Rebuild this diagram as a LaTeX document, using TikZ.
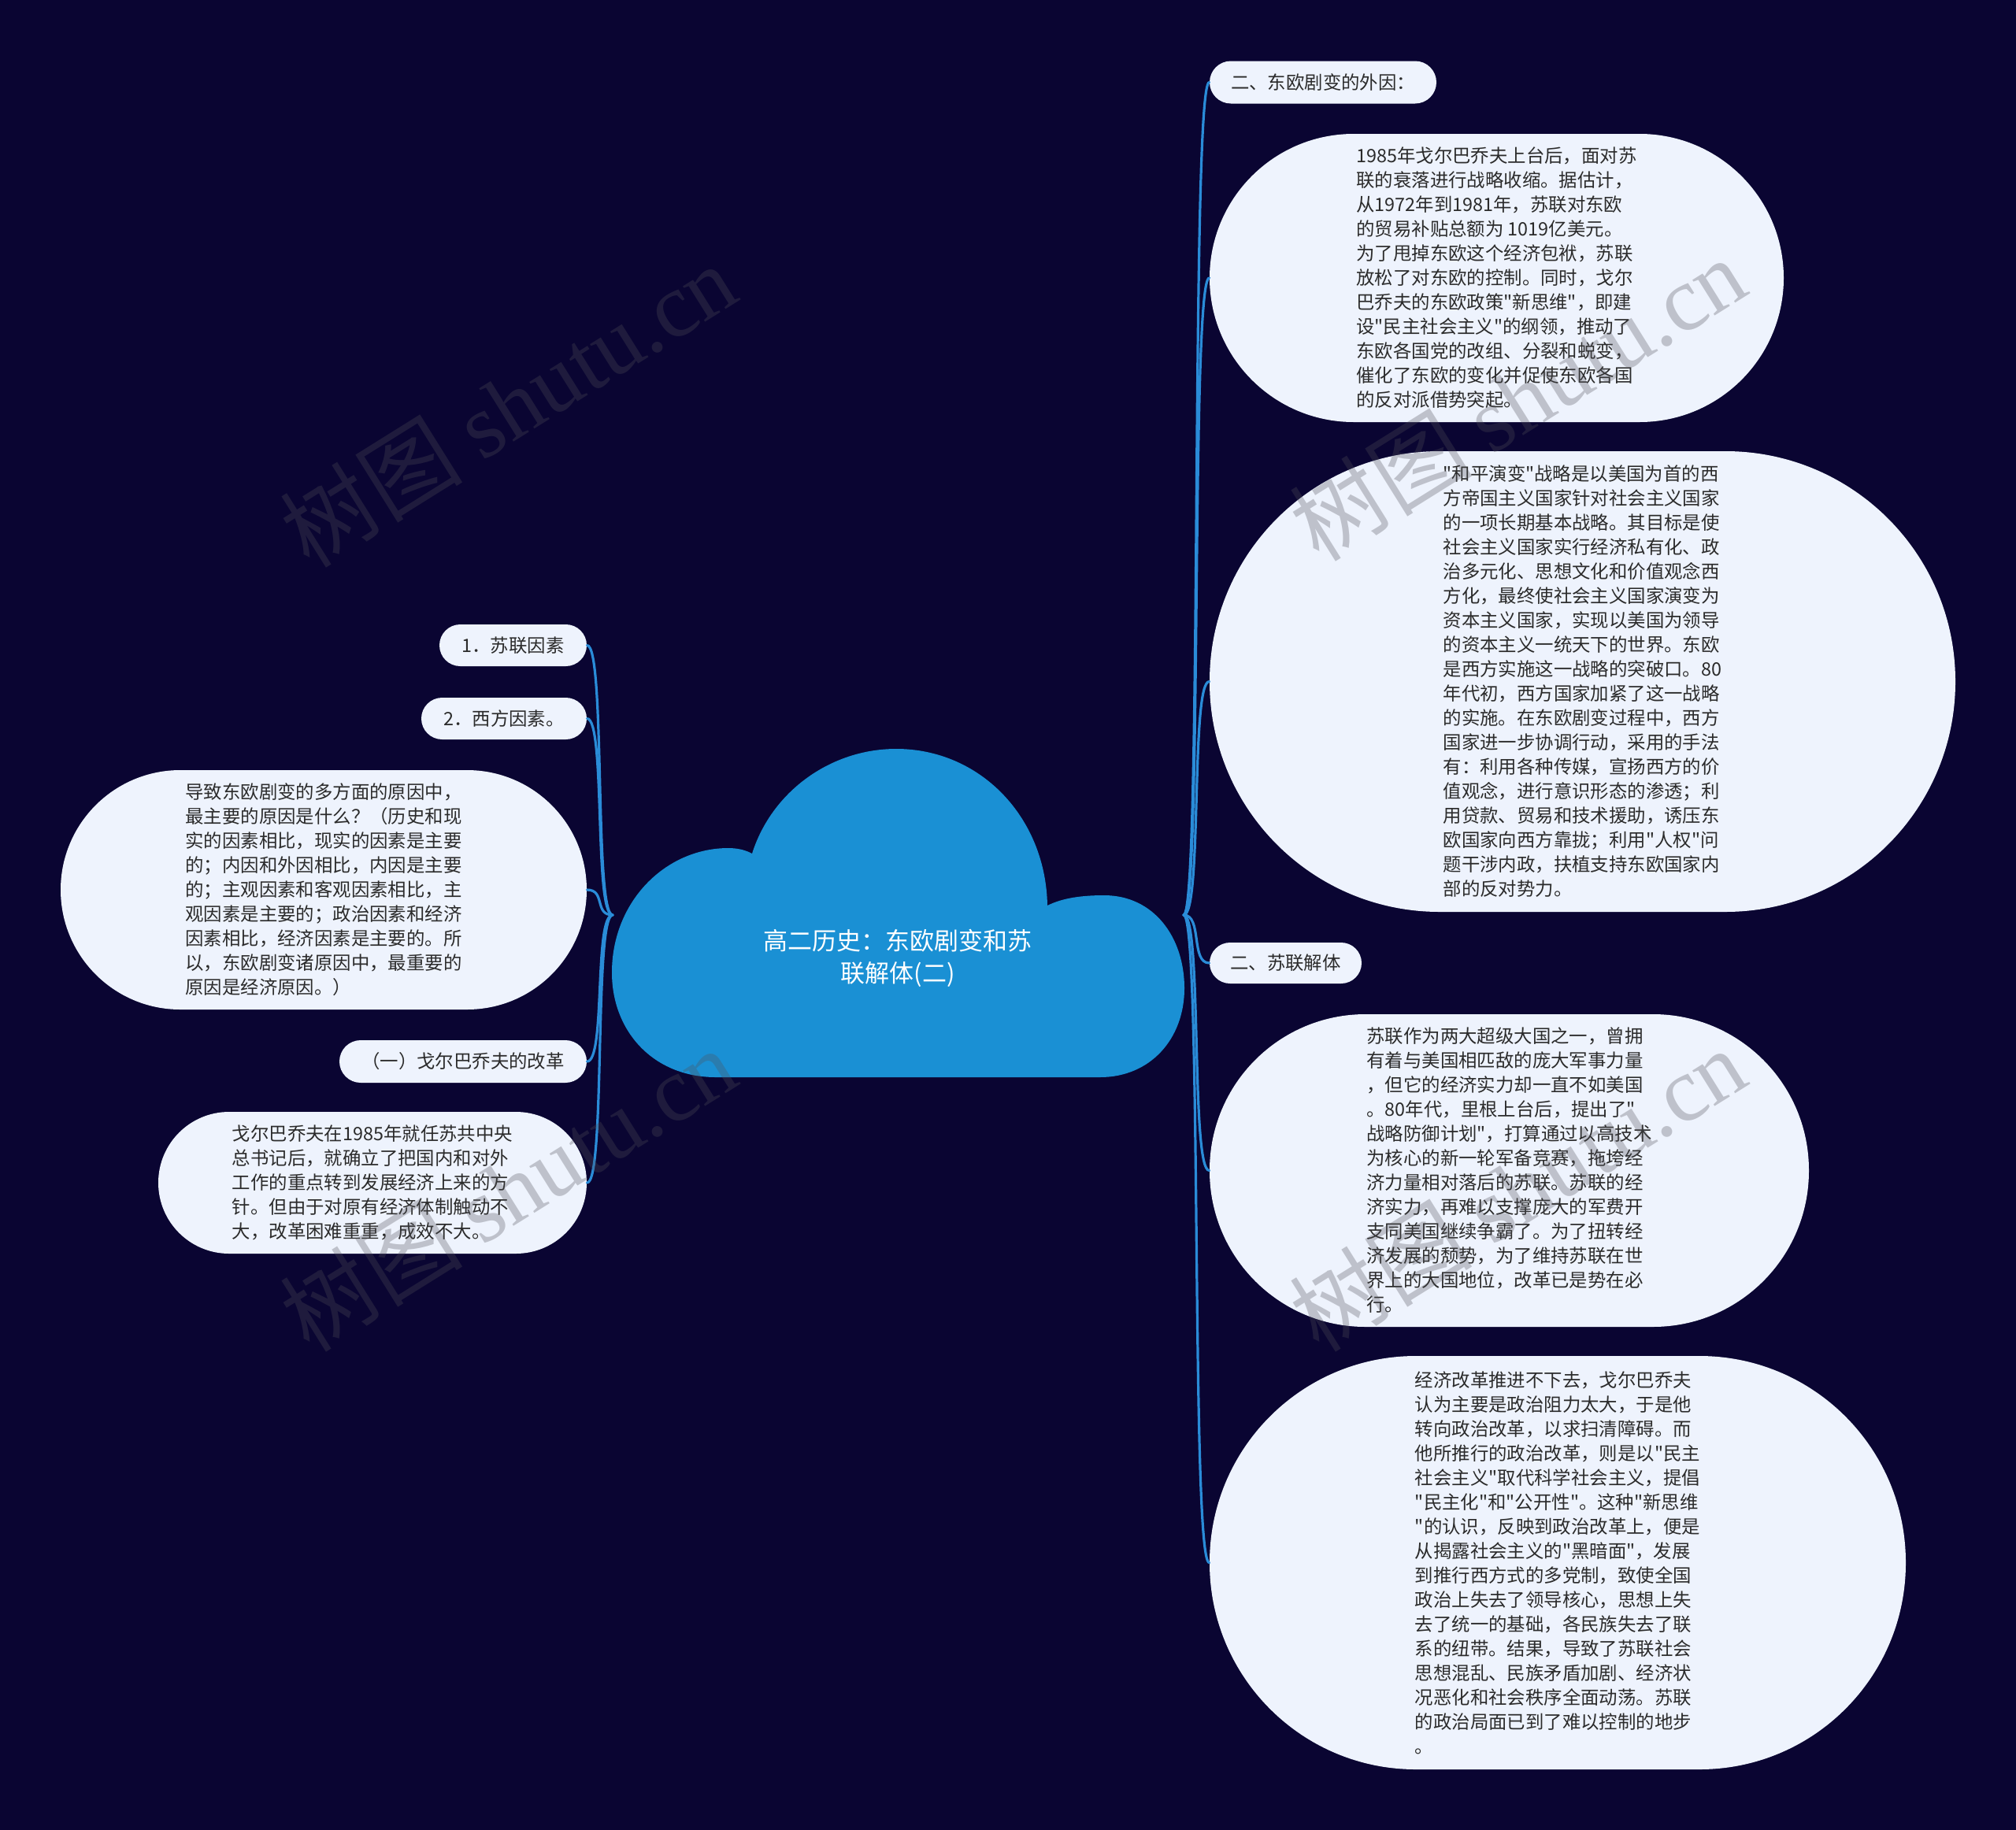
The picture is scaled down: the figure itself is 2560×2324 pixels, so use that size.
\documentclass[tikz,border=0pt]{standalone}
\usepackage{fontspec}
\setmainfont{Noto Sans CJK SC}[Ligatures=TeXOff]
\newfontfamily\wmlatin{Liberation Serif}
\definecolor{bgnavy}{HTML}{0A0532}
\definecolor{cloudblue}{HTML}{1A90D4}
\definecolor{linkblue}{HTML}{2A8CD8}
\definecolor{bubblefill}{HTML}{EEF3FD}
\definecolor{bubbletext}{HTML}{2B2B2B}
\definecolor{wmgray}{HTML}{505058}
\tikzset{
  bubble/.style={rectangle, fill=bubblefill, text=bubbletext, inner sep=0pt,
    align=left, font=\fontsize{11.7pt}{15.5pt}\selectfont},
  link/.style={draw=linkblue, line width=1.6pt, line cap=round},
  titletext/.style={text=white, align=center, font=\fontsize{15.5pt}{20.5pt}\selectfont},
  watermark/.style={text=wmgray, opacity=0.3, rotate=32, font=\fontsize{58pt}{58pt}\selectfont}
}
\begin{document}
\begin{tikzpicture}[x=0.5pt,y=-0.5pt]
\fill[bgnavy] (0,0) rectangle (2560,2324);
\useasboundingbox (0,0) rectangle (2560,2324);

% junction points of the central cloud
\coordinate (cl) at (778,1162);
\coordinate (cr) at (1503,1162);

% right nodes
\node[bubble, minimum width=144pt, minimum height=27pt, rounded corners=13.5pt, align=center] (r1) at (1680,104.5) {二、东欧剧变的外因：};
\node[bubble, minimum width=364.5pt, minimum height=183pt, rounded corners=91.5pt] (r2) at (1900.5,353) {1985年戈尔巴乔夫上台后，面对苏\\联的衰落进行战略收缩。据估计，\\从1972年到1981年，苏联对东欧\\的贸易补贴总额为 1019亿美元。\\为了甩掉东欧这个经济包袱，苏联\\放松了对东欧的控制。同时，戈尔\\巴乔夫的东欧政策"新思维"，即建\\设"民主社会主义"的纲领，推动了\\东欧各国党的改组、分裂和蜕变，\\催化了东欧的变化并促使东欧各国\\的反对派借势突起。};
\node[bubble, minimum width=473.5pt, minimum height=292.5pt, rounded corners=146pt] (r3) at (2009.5,865.5) {"和平演变"战略是以美国为首的西\\方帝国主义国家针对社会主义国家\\的一项长期基本战略。其目标是使\\社会主义国家实行经济私有化、政\\治多元化、思想文化和价值观念西\\方化，最终使社会主义国家演变为\\资本主义国家，实现以美国为领导\\的资本主义一统天下的世界。东欧\\是西方实施这一战略的突破口。80\\年代初，西方国家加紧了这一战略\\的实施。在东欧剧变过程中，西方\\国家进一步协调行动，采用的手法\\有：利用各种传媒，宣扬西方的价\\值观念，进行意识形态的渗透；利\\用贷款、贸易和技术援助，诱压东\\欧国家向西方靠拢；利用"人权"问\\题干涉内政，扶植支持东欧国家内\\部的反对势力。};
\node[bubble, minimum width=96.5pt, minimum height=26pt, rounded corners=13pt, align=center] (r4) at (1632.5,1223) {二、苏联解体};
\node[bubble, minimum width=380.5pt, minimum height=198.5pt, rounded corners=99pt] (r5) at (1916.5,1486.5) {苏联作为两大超级大国之一，曾拥\\有着与美国相匹敌的庞大军事力量\\，但它的经济实力却一直不如美国\\。80年代，里根上台后，提出了"\\战略防御计划"，打算通过以高技术\\为核心的新一轮军备竞赛，拖垮经\\济力量相对落后的苏联。苏联的经\\济实力，再难以支撑庞大的军费开\\支同美国继续争霸了。为了扭转经\\济发展的颓势，为了维持苏联在世\\界上的大国地位，改革已是势在必\\行。};
\node[bubble, minimum width=442pt, minimum height=262.5pt, rounded corners=131pt] (r6) at (1978,1984.5) {经济改革推进不下去，戈尔巴乔夫\\认为主要是政治阻力太大，于是他\\转向政治改革，以求扫清障碍。而\\他所推行的政治改革，则是以"民主\\社会主义"取代科学社会主义，提倡\\"民主化"和"公开性"。这种"新思维\\"的认识，反映到政治改革上，便是\\从揭露社会主义的"黑暗面"，发展\\到推行西方式的多党制，致使全国\\政治上失去了领导核心，思想上失\\去了统一的基础，各民族失去了联\\系的纽带。结果，导致了苏联社会\\思想混乱、民族矛盾加剧、经济状\\况恶化和社会秩序全面动荡。苏联\\的政治局面已到了难以控制的地步\\。};

% left nodes
\node[bubble, minimum width=93.5pt, minimum height=26.5pt, rounded corners=13.25pt, align=center] (l1) at (651.5,819.5) {1．苏联因素};
\node[bubble, minimum width=105pt, minimum height=26.5pt, rounded corners=13.25pt, align=center] (l2) at (640,912.5) {2．西方因素。};
\node[bubble, minimum width=334pt, minimum height=152pt, rounded corners=76pt] (l3) at (411,1130) {导致东欧剧变的多方面的原因中，\\最主要的原因是什么？（历史和现\\实的因素相比，现实的因素是主要\\的；内因和外因相比，内因是主要\\的；主观因素和客观因素相比，主\\观因素是主要的；政治因素和经济\\因素相比，经济因素是主要的。所\\以，东欧剧变诸原因中，最重要的\\原因是经济原因。）};
\node[bubble, minimum width=157pt, minimum height=27pt, rounded corners=13.5pt, align=center] (l4) at (588,1348) {（一）戈尔巴乔夫的改革};
\node[bubble, minimum width=272pt, minimum height=90pt, rounded corners=45pt] (l5) at (473,1502) {戈尔巴乔夫在1985年就任苏共中央\\总书记后，就确立了把国内和对外\\工作的重点转到发展经济上来的方\\针。但由于对原有经济体制触动不\\大，改革困难重重，成效不大。};

% connectors
\foreach \n in {r1,r2,r3,r4,r5,r6}
  \draw[link] (cr) .. controls +(24,0) and +(-24,0) .. (\n.west);
\foreach \n in {l1,l2,l3,l4,l5}
  \draw[link] (cl) .. controls +(-24,0) and +(24,0) .. (\n.east);

% central cloud
\fill[cloudblue]
  (909,1368) .. controls (830,1368) and (777,1310) .. (777,1235)
  .. controls (777,1145) and (845,1077) .. (925,1077)
  .. controls (935,1077) and (946,1079) .. (955,1084)
  .. controls (980,1005) and (1055,951) .. (1138,951)
  .. controls (1244,951) and (1328,1037) .. (1330,1150)
  .. controls (1350,1140) and (1375,1137) .. (1402,1137)
  .. controls (1465,1137) and (1504,1190) .. (1504,1255)
  .. controls (1504,1320) and (1460,1368) .. (1397,1368)
  -- cycle;
\node[titletext] (title) at (1140,1217) {高二历史：东欧剧变和苏\\联解体(二)};

% watermarks
\node[watermark] (wm1) at (645,514) {树图 {\wmlatin shutu.cn}};
\node[watermark] (wm2) at (1927,506) {树图 {\wmlatin shutu.cn}};
\node[watermark] (wm3) at (645,1510) {树图 {\wmlatin shutu.cn}};
\node[watermark] (wm4) at (1927,1510) {树图 {\wmlatin shutu.cn}};
\end{tikzpicture}
\end{document}
